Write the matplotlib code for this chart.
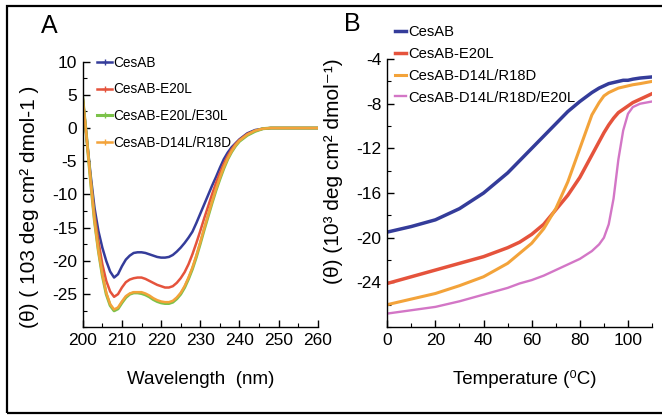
import matplotlib
matplotlib.use("Agg")
import matplotlib.pyplot as plt
from matplotlib.patches import Rectangle
from matplotlib.ticker import MultipleLocator, FixedLocator

plt.rcParams['font.family'] = ['Liberation Sans', 'DejaVu Sans']
plt.rcParams['axes.unicode_minus'] = False

# panel A: far-UV CD spectra
wavelength = [200, 201, 202, 203, 204, 205, 206, 207, 208, 209, 210, 211, 212, 213, 214,
              215, 216, 217, 218, 219, 220, 221, 222, 223, 224, 225, 226, 227, 228, 229,
              230, 231, 232, 233, 234, 235, 236, 237, 238, 239, 240, 242, 244, 246, 248,
              250, 252, 254, 256, 258, 260]
cd_cesab = [4.5, -1.5, -7, -12, -15.5, -18, -20, -21.6, -22.5, -22, -20.8, -19.8, -19.2, -18.8, -18.7,
            -18.7, -18.8, -19.0, -19.2, -19.4, -19.5, -19.5, -19.4, -19.1, -18.6, -18.0, -17.3, -16.5, -15.6, -14.3,
            -12.9, -11.5, -10.1, -8.7, -7.4, -6.0, -4.7, -3.7, -2.9, -2.3, -1.7, -0.8, -0.3, -0.1, 0,
            0, 0, 0, 0, 0, 0]
cd_e20l = [4.5, -1.5, -7.5, -13, -17, -20.5, -23, -24.6, -25.4, -25.0, -24.0, -23.2, -22.8, -22.6, -22.5,
           -22.5, -22.7, -23.0, -23.3, -23.6, -23.8, -24.0, -24.0, -23.8, -23.3, -22.6, -21.7, -20.5, -19.0, -17.3,
           -15.5, -13.6, -11.8, -10.0, -8.3, -6.8, -5.4, -4.2, -3.2, -2.4, -1.8, -0.9, -0.4, -0.1, 0,
           0, 0, 0, 0, 0, 0]
cd_e20l_e30l = [4.5, -1.5, -8, -14, -18.5, -22.2, -25, -26.7, -27.5, -27.2, -26.3, -25.5, -25.0, -24.8, -24.8,
                -24.9, -25.1, -25.4, -25.8, -26.1, -26.3, -26.4, -26.4, -26.2, -25.7, -25.0, -24.0, -22.7, -21.2, -19.4,
                -17.4, -15.3, -13.3, -11.3, -9.4, -7.7, -6.1, -4.7, -3.6, -2.7, -2.0, -1.1, -0.5, -0.1, 0,
                0, 0, 0, 0, 0, 0]
cd_d14l_r18d = [4.5, -1.5, -8, -14, -18.5, -22, -24.8, -26.5, -27.3, -27.0, -26.1, -25.3, -24.9, -24.7, -24.7,
                -24.7, -24.9, -25.2, -25.6, -25.9, -26.1, -26.2, -26.2, -26.0, -25.5, -24.8, -23.8, -22.5, -21.0, -19.2,
                -17.2, -15.1, -13.1, -11.1, -9.2, -7.5, -5.9, -4.6, -3.5, -2.6, -1.9, -1.0, -0.4, -0.1, 0,
                0, 0, 0, 0, 0, 0]

# panel B: thermal melts
temp = [0, 10, 20, 30, 40, 50, 55, 60, 65, 70, 75, 80, 85, 88, 90, 92, 94, 96, 98, 100, 102, 105, 110]
tm_cesab = [-19.5, -19.0, -18.4, -17.4, -16.0, -14.2, -13.1, -12.0, -10.9, -9.8, -8.7, -7.8, -7.0, -6.6,
            -6.4, -6.2, -6.1, -6.0, -5.9, -5.9, -5.8, -5.7, -5.6]
tm_e20l = [-24.1, -23.5, -22.9, -22.3, -21.7, -20.9, -20.4, -19.7, -18.8, -17.5, -16.2, -14.6, -12.6, -11.4,
           -10.6, -9.9, -9.3, -8.8, -8.5, -8.2, -7.9, -7.6, -7.1]
tm_d14l_r18d = [-26.0, -25.5, -25.0, -24.3, -23.5, -22.3, -21.4, -20.5, -19.2, -17.4, -15.0, -12.0, -9.0, -7.9,
                -7.3, -7.0, -6.8, -6.6, -6.5, -6.4, -6.3, -6.2, -6.0]
tm_d14l_r18d_e20l = [-26.8, -26.5, -26.2, -25.7, -25.1, -24.5, -24.1, -23.8, -23.4, -22.9, -22.4, -21.9, -21.2, -20.6,
                     -20.0, -18.8, -16.5, -13.0, -10.4, -8.9, -8.3, -8.0, -7.8]

blue = '#343c9a'
red = '#e5533c'
green = '#7cc24a'
orange = '#f3a33a'
magenta = '#d376c6'

fig = plt.figure(figsize=(6.62, 4.16), dpi=100)
fig.patches.append(Rectangle((0.011, 0.007), 1.1, 0.979, transform=fig.transFigure,
                             fill=False, edgecolor='black', linewidth=1.6))


def style_axes(ax):
    ax.spines['top'].set_visible(False)
    ax.spines['right'].set_visible(False)
    ax.spines['left'].set_linewidth(1.0)
    ax.spines['bottom'].set_linewidth(1.0)
    ax.tick_params(which='major', direction='in', length=5, width=1.0, labelsize=12.5, pad=4)
    ax.tick_params(which='minor', direction='in', length=3, width=0.8)


# ---- A ----
axA = fig.add_axes([0.125, 0.213, 0.355, 0.639])
axA.plot(wavelength, cd_cesab, color=blue, lw=1.8, label='CesAB')
axA.plot(wavelength, cd_e20l, color=red, lw=1.8, label='CesAB-E20L')
axA.plot(wavelength, cd_e20l_e30l, color=green, lw=2.2, label='CesAB-E20L/E30L')
axA.plot(wavelength, cd_d14l_r18d, color=orange, lw=1.8, label='CesAB-D14L/R18D')
axA.set_xlim(200, 260)
axA.set_ylim(-30, 10)
axA.xaxis.set_major_locator(MultipleLocator(10))
axA.xaxis.set_minor_locator(MultipleLocator(5))
axA.yaxis.set_major_locator(FixedLocator([-25, -20, -15, -10, -5, 0, 5, 10]))
axA.yaxis.set_minor_locator(MultipleLocator(2.5))
style_axes(axA)
axA.set_xlabel('Wavelength  (nm)', fontsize=13.5)
axA.xaxis.set_label_coords(0.5, -0.165)
axA.set_ylabel('(θ) ( 103 deg cm² dmol-1 )', fontsize=15)
axA.yaxis.set_label_coords(-0.186, 0.453)
legA = axA.legend(loc='upper left', bbox_to_anchor=(0.061, 1.022), frameon=False, fontsize=9.8,
                  handlelength=1.1, handletextpad=0.1, labelspacing=0.93, borderpad=0,
                  borderaxespad=0)
for h in legA.legend_handles:
    h.set_marker('+')
    h.set_markersize(4)
fig.text(0.074, 0.9375, 'A', fontsize=18, ha='center', va='center')

# ---- B ----
axB = fig.add_axes([0.585, 0.214, 0.40, 0.644])
axB.plot(temp, tm_cesab, color=blue, lw=2.5, label='CesAB')
axB.plot(temp, tm_e20l, color=red, lw=2.5, label='CesAB-E20L')
axB.plot(temp, tm_d14l_r18d, color=orange, lw=2.2, label='CesAB-D14L/R18D')
axB.plot(temp, tm_d14l_r18d_e20l, color=magenta, lw=1.7, label='CesAB-D14L/R18D/E20L')
axB.set_xlim(0, 110)
axB.set_ylim(-28, -4)
axB.xaxis.set_major_locator(FixedLocator([0, 20, 40, 60, 80, 100]))
axB.xaxis.set_minor_locator(MultipleLocator(10))
axB.yaxis.set_major_locator(FixedLocator([-24, -20, -16, -12, -8, -4]))
axB.yaxis.set_minor_locator(MultipleLocator(2))
style_axes(axB)
axB.set_xlabel('Temperature (⁰C)', fontsize=13.5)
axB.xaxis.set_label_coords(0.52, -0.159)
axB.set_ylabel('(θ) (10³ deg cm² dmol⁻¹)', fontsize=15)
axB.yaxis.set_label_coords(-0.167, 0.58)
axB.legend(loc='upper left', bbox_to_anchor=(0.030, 1.128), frameon=False, fontsize=10.6,
           handlelength=0.75, handletextpad=0.14, labelspacing=0.54, borderpad=0,
           borderaxespad=0)
fig.text(0.532, 0.942, 'B', fontsize=18, ha='center', va='center')

fig.savefig('out.png', dpi=100)
